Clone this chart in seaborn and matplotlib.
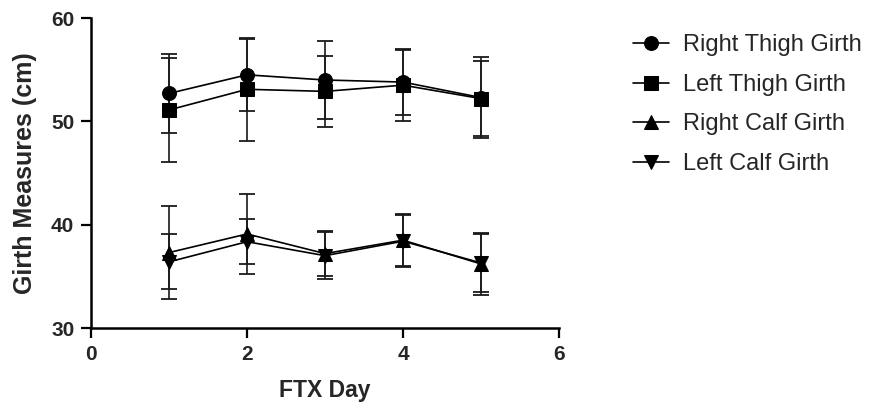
import pandas as pd
import matplotlib
matplotlib.use('Agg')
import matplotlib.pyplot as plt
import seaborn as sns

# Girth measures (mean and SD) over FTX days
days = [1, 2, 3, 4, 5]
series_names = ['Right Thigh Girth', 'Left Thigh Girth', 'Right Calf Girth', 'Left Calf Girth']

right_thigh = [52.7, 54.5, 54.0, 53.8, 52.3]
right_thigh_sd = [3.85, 3.5, 3.8, 3.2, 3.9]
left_thigh = [51.1, 53.1, 52.9, 53.5, 52.2]
left_thigh_sd = [5.0, 5.0, 3.45, 3.45, 3.65]
right_calf = [37.3, 39.1, 37.2, 38.5, 36.2]
right_calf_sd = [4.5, 3.9, 2.2, 2.5, 3.0]
left_calf = [36.4, 38.35, 37.0, 38.4, 36.3]
left_calf_sd = [2.65, 2.2, 2.3, 2.5, 2.8]

means = [right_thigh, left_thigh, right_calf, left_calf]
sds = [right_thigh_sd, left_thigh_sd, right_calf_sd, left_calf_sd]
marker_list = ['o', 's', '^', 'v']

# Build a long table for seaborn
rows = []
for name, m, s in zip(series_names, means, sds):
    for d, v, e in zip(days, m, s):
        rows.append({'Day': d, 'Girth': v, 'SD': e, 'Series': name})
girth = pd.DataFrame(rows)

sns.set_style('ticks')
plt.rcParams['font.family'] = ['Liberation Sans', 'DejaVu Sans']

fig = plt.figure(figsize=(8.81, 4.09), dpi=100)
ax = fig.add_axes([91 / 881, 81 / 409, 468 / 881, 310 / 409])

# Error bars first so markers sit on top
for name, mk in zip(series_names, marker_list):
    sub = girth[girth['Series'] == name]
    ax.errorbar(sub['Day'], sub['Girth'], yerr=sub['SD'], fmt='none',
                ecolor='#1a1a1a', elinewidth=1.2, capsize=5.5, capthick=1.3, zorder=2)

sns.lineplot(data=girth, x='Day', y='Girth', style='Series', hue='Series',
             palette=['black'] * 4, markers=dict(zip(series_names, marker_list)),
             dashes=False, markersize=10, linewidth=1.2, markeredgecolor='black',
             ax=ax, legend=True, zorder=3)

ax.set_xlim(0, 6)
ax.set_ylim(30, 60)
ax.set_xticks([0, 2, 4, 6])
ax.set_yticks([30, 40, 50, 60])
ax.set_xlabel('FTX Day', fontsize=16.5, fontweight='bold', labelpad=11)
ax.set_ylabel('Girth Measures (cm)', fontsize=18, fontweight='bold', labelpad=10)
for lab in ax.get_xticklabels() + ax.get_yticklabels():
    lab.set_fontweight('bold')
ax.tick_params(axis='both', labelsize=15, length=7, width=1.6, color='black', pad=5)

sns.despine(ax=ax)
for sp in ['left', 'bottom']:
    ax.spines[sp].set_linewidth(1.8)
    ax.spines[sp].set_color('black')

handles, labels = ax.get_legend_handles_labels()
ax.get_legend().remove()
fig.legend(handles, labels, loc='upper left', bbox_to_anchor=(624 / 881, 1 - 25 / 409),
           frameon=False, fontsize=17, handlelength=1.5, handletextpad=0.6,
           labelspacing=0.74, borderaxespad=0)

fig.savefig('out.png', dpi=100)
